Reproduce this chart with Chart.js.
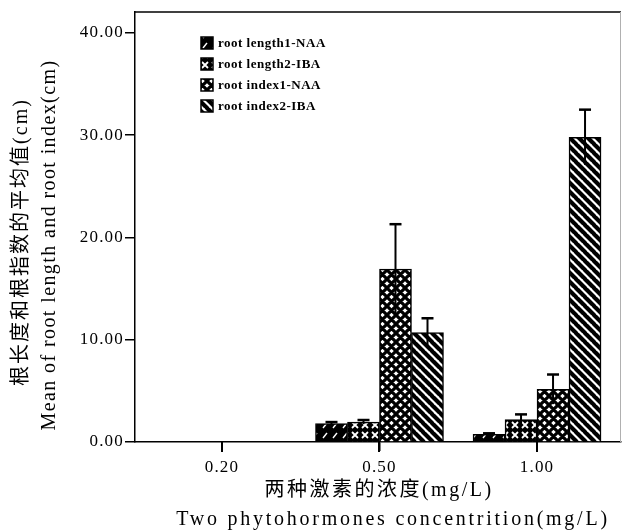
<!DOCTYPE html>
<html><head><meta charset="utf-8">
<script src="https://cdn.jsdelivr.net/npm/chart.js@4.4.1/dist/chart.umd.min.js"></script>
<style>html,body{margin:0;padding:0;background:#fff;}canvas{display:block}</style>
</head><body>
<canvas id="c" width="623" height="532"></canvas>
<script>
// ---- data ----
const categories = ['0.20', '0.50', '1.00'];
const seriesNames = ['root length1-NAA', 'root length2-IBA', 'root index1-NAA', 'root index2-IBA'];
const rootLength1NAA = [0, 1.8, 0.75];
const rootLength2IBA = [0, 1.95, 2.2];
const rootIndex1NAA  = [0, 16.9, 5.15];
const rootIndex2IBA  = [0, 10.7, 29.8];
const errLength1NAA = [0, 0.15, 0.1];
const errLength2IBA = [0, 0.2, 0.5];
const errIndex1NAA  = [0, 4.4, 1.45];
const errIndex2IBA  = [0, 1.4, 2.7];
const yTicks = [0, 10, 20, 30, 40];
const xTitleCN = '两种激素的浓度(mg/L)';
const xTitleEN = 'Two phytohormones concentrition(mg/L)';
const yTitleCN = '根长度和根指数的平均值(cm)';
const yTitleEN = 'Mean of root length and root index(cm)';

// ---- hatch patterns ----
function makePattern(kind) {
  const s = (kind === 'slash' || kind === 'x') ? 10 : 9;
  const c = document.createElement('canvas');
  c.width = s; c.height = s;
  const g = c.getContext('2d');
  if (kind === 'slash') {
    g.fillStyle = '#000'; g.fillRect(0, 0, s, s);
    g.strokeStyle = '#fff'; g.lineWidth = 1.4;
    g.beginPath(); g.moveTo(3, 8); g.lineTo(7, 3); g.stroke();
  } else if (kind === 'x') {
    g.fillStyle = '#000'; g.fillRect(0, 0, s, s);
    g.strokeStyle = '#fff'; g.lineWidth = 1.8;
    g.beginPath(); g.moveTo(2, 2); g.lineTo(8, 8); g.moveTo(8, 2); g.lineTo(2, 8); g.stroke();
  } else if (kind === 'cross') {
    g.fillStyle = '#fff'; g.fillRect(0, 0, s, s);
    g.strokeStyle = '#000'; g.lineWidth = 3.2;
    g.beginPath();
    for (const o of [-s, 0, s]) {
      g.moveTo(o - 1, -1); g.lineTo(o + s + 1, s + 1);
      g.moveTo(o + s + 1, -1); g.lineTo(o - 1, s + 1);
    }
    g.stroke();
  } else {
    g.fillStyle = '#fff'; g.fillRect(0, 0, s, s);
    g.strokeStyle = '#000'; g.lineWidth = 4.2;
    g.beginPath();
    for (const o of [-s, 0, s]) { g.moveTo(o - 1, -1); g.lineTo(o + s + 1, s + 1); }
    g.stroke();
  }
  return g.createPattern(c, 'repeat');
}

const seriesValues = [rootLength1NAA, rootLength2IBA, rootIndex1NAA, rootIndex2IBA];
const seriesErrors = [errLength1NAA, errLength2IBA, errIndex1NAA, errIndex2IBA];
const seriesKinds = ['slash', 'x', 'cross', 'back'];

const datasets = seriesNames.map((name, d) => ({
  label: name,
  data: seriesValues[d].map((v, i) => ({ x: i, y: v })),
  backgroundColor: makePattern(seriesKinds[d]),
  borderColor: '#000',
  borderWidth: 1.5,
  borderSkipped: 'start',
  barThickness: 32
}));

const decor = {
  id: 'decor',
  beforeDraw(chart) { chart.ctx.letterSpacing = '1.2px'; },
  afterDatasetsDraw(chart) {
    const ctx = chart.ctx, ys = chart.scales.y;
    ctx.save();
    ctx.strokeStyle = '#000';
    seriesValues.forEach((vals, d) => {
      const meta = chart.getDatasetMeta(d);
      vals.forEach((v, i) => {
        const e = seriesErrors[d][i];
        if (!e) return;
        const x = meta.data[i].x;
        const yt = ys.getPixelForValue(v + e), yb = ys.getPixelForValue(v - e);
        ctx.lineWidth = 2;
        ctx.beginPath(); ctx.moveTo(x, yb); ctx.lineTo(x, yt); ctx.stroke();
        ctx.lineWidth = 2.5;
        ctx.beginPath(); ctx.moveTo(x - 6, yt); ctx.lineTo(x + 6, yt); ctx.stroke();
      });
    });
    ctx.restore();
  },
  afterDraw(chart) {
    const ctx = chart.ctx, a = chart.chartArea, xs = chart.scales.x;
    ctx.save();
    // frame
    ctx.strokeStyle = '#000'; ctx.lineWidth = 1.5;
    ctx.beginPath(); ctx.moveTo(a.left, a.top); ctx.lineTo(a.right, a.top); ctx.stroke();
    ctx.strokeStyle = '#b0b0b0'; ctx.lineWidth = 1;
    ctx.beginPath(); ctx.moveTo(a.right - 0.5, a.top); ctx.lineTo(a.right - 0.5, a.bottom); ctx.stroke();
    // x tick marks at category positions
    ctx.strokeStyle = '#000'; ctx.lineWidth = 2;
    categories.forEach((c, i) => {
      const px = Math.round(xs.getPixelForValue(i));
      ctx.beginPath(); ctx.moveTo(px, a.bottom); ctx.lineTo(px, a.bottom + 10); ctx.stroke();
    });
    // legend
    ctx.font = 'bold 13px "Liberation Serif"';
    ctx.letterSpacing = '0.5px';
    ctx.textAlign = 'left'; ctx.textBaseline = 'middle';
    chart.data.datasets.forEach((ds, d) => {
      const yc = 43 + d * 21;
      ctx.fillStyle = ds.backgroundColor;
      ctx.fillRect(201, yc - 6, 12, 12);
      ctx.strokeStyle = '#000'; ctx.lineWidth = 1.5;
      ctx.strokeRect(201, yc - 6, 12, 12);
      ctx.fillStyle = '#000';
      ctx.fillText(ds.label, 218, yc + 1);
    });
    // axis titles
    ctx.fillStyle = '#000';
    ctx.textAlign = 'center'; ctx.textBaseline = 'middle';
    ctx.font = '20px "Liberation Serif", "Noto Sans CJK SC"';
    ctx.letterSpacing = '2.5px';
    ctx.fillText(xTitleCN, 379, 491);
    ctx.letterSpacing = '2.75px';
    ctx.fillText(xTitleEN, 393, 520);
    ctx.save();
    ctx.translate(22, 242); ctx.rotate(-Math.PI / 2);
    ctx.letterSpacing = '2px';
    ctx.fillText(yTitleCN, 0, 0);
    ctx.restore();
    ctx.save();
    ctx.translate(50, 245); ctx.rotate(-Math.PI / 2);
    ctx.letterSpacing = '1.4px';
    ctx.fillText(yTitleEN, 0, 0);
    ctx.restore();
    ctx.restore();
  }
};

new Chart(document.getElementById('c'), {
  type: 'bar',
  data: { datasets },
  options: {
    responsive: false,
    animation: false,
    devicePixelRatio: 1,
    layout: { padding: { top: 12, right: 2, left: 0, bottom: 0 } },
    plugins: { legend: { display: false }, tooltip: { enabled: false } },
    scales: {
      x: {
        type: 'linear',
        offset: false,
        min: -0.552, max: 2.533,
        afterBuildTicks: s => { s.ticks = categories.map((c, i) => ({ value: i })); },
        afterFit: s => { s.height = 90; },
        ticks: {
          callback: v => categories[v],
          color: '#000', font: { family: 'Liberation Serif', size: 17 },
          padding: 6, maxRotation: 0, autoSkip: false
        },
        grid: { offset: false, drawOnChartArea: false, drawTicks: true, tickLength: 9, color: '#000', lineWidth: 1.5 },
        border: { display: true, color: '#000', width: 1.5 }
      },
      y: {
        min: 0, max: 42.05,
        afterBuildTicks: s => { s.ticks = yTicks.map(v => ({ value: v })); },
        afterFit: s => { s.width = 135; },
        ticks: {
          callback: v => Number(v).toFixed(2),
          color: '#000', font: { family: 'Liberation Serif', size: 17 }, padding: 1
        },
        grid: { drawOnChartArea: false, drawTicks: true, tickLength: 10, color: '#000', lineWidth: 1.5 },
        border: { display: true, color: '#000', width: 1.5 }
      }
    }
  },
  plugins: [decor]
});
</script>
</body></html>
